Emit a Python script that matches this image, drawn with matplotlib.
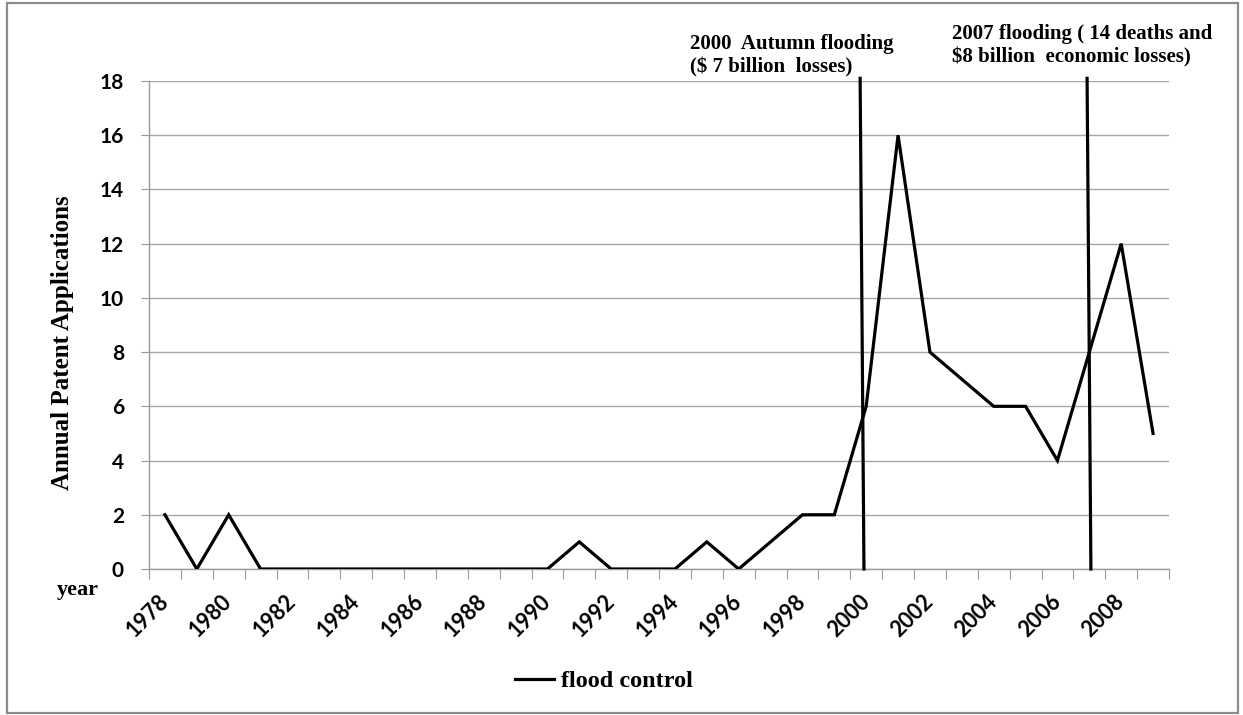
import matplotlib.pyplot as plt
from matplotlib.patches import Rectangle

# ---- data ----
years = list(range(1978, 2010))
patents = [2, 0, 2, 0, 0, 0, 0, 0, 0, 0, 0, 0, 0, 1, 0, 0,
           0, 1, 0, 1, 2, 2, 6, 16, 8, 7, 6, 6, 4, 8, 12, 5]
label_years = list(range(1978, 2010, 2))
y_ticks = list(range(0, 20, 2))

# flood event markers (hand drawn lines, slightly slanted)
event_top_x = [1999.81, 2006.93]
event_bottom_x = [1999.93, 2007.05]
event_top_y = 18.1
event_texts = [
    "2000  Autumn flooding\n(\\$ 7 billion  losses)",
    "2007 flooding ( 14 deaths and\n\\$8 billion  economic losses)",
]

W, H = 1243, 715
SERIF = "Liberation Serif"
SANS = "Lato"


def fx(px):
    return px / W


def fy(py):
    return 1 - py / H


fig = plt.figure(figsize=(W / 100, H / 100), dpi=100)
ax = fig.add_axes([fx(149), fy(569), fx(1169) - fx(149), fy(81) - fy(569)])

# series
line, = ax.plot(years, patents, color="black", lw=2.3, label="flood control",
                solid_joinstyle="miter", zorder=3)

# event lines
for xt, xb in zip(event_top_x, event_bottom_x):
    ax.plot([xb, xt], [0, event_top_y], color="black", lw=2.3,
            clip_on=False, zorder=4)

ax.set_xlim(1977.5, 2009.5)
ax.set_ylim(0, 18)

# category boundary ticks, labels on even years
ax.set_xticks([y - 0.5 for y in years] + [2009.5])
ax.set_xticklabels([])
ax.set_xticks(label_years, minor=True)
ax.set_xticklabels([str(y) for y in label_years], minor=True,
                   rotation=45, ha="right", va="center",
                   rotation_mode="anchor", fontsize=15.5,
                   fontfamily=SANS, fontweight="bold")
ax.tick_params(axis="x", which="major", length=7, color="#9a9a9a",
               direction="out")
ax.tick_params(axis="x", which="minor", length=0, pad=21)

ax.set_yticks(y_ticks)
ax.set_yticklabels([str(v) for v in y_ticks], fontsize=15,
                   fontfamily=SANS, fontweight="bold")
ax.tick_params(axis="y", length=6, color="#9a9a9a", direction="out", pad=12)

ax.grid(axis="y", color="#a6a6a6", lw=1.0)
ax.set_axisbelow(True)
for side in ["top", "right"]:
    ax.spines[side].set_visible(False)
for side in ["left", "bottom"]:
    ax.spines[side].set_color("#9a9a9a")
    ax.spines[side].set_linewidth(1.0)

ax.set_ylabel("Annual Patent Applications", fontsize=18, fontfamily=SERIF,
              fontweight="bold", va="center")
ax.yaxis.set_label_coords((63 - 149) / 1020, (569 - 343) / 488)

# annotations above the plot
fig.text(fx(690), fy(56), event_texts[0], fontsize=15, fontfamily=SERIF,
         fontweight="bold", ha="left", va="center", linespacing=1.25)
fig.text(fx(952), fy(46), event_texts[1], fontsize=15, fontfamily=SERIF,
         fontweight="bold", ha="left", va="center", linespacing=1.25)

fig.text(fx(78), fy(590), "year", fontsize=16, fontfamily=SERIF,
         fontweight="bold", ha="center", va="center")

leg = fig.legend(handles=[line], loc="center",
                 bbox_to_anchor=(fx(604), fy(681)), frameon=False,
                 handlelength=1.6, handletextpad=0.3,
                 prop={"family": SERIF, "weight": "bold", "size": 17.5})

# outer chart border
fig.patches.append(Rectangle((fx(7), fy(713)), fx(1238) - fx(7),
                             fy(3) - fy(713), transform=fig.transFigure,
                             fill=False, edgecolor="#8c8c8c", lw=1.6))

fig.savefig("out.png", dpi=100)
